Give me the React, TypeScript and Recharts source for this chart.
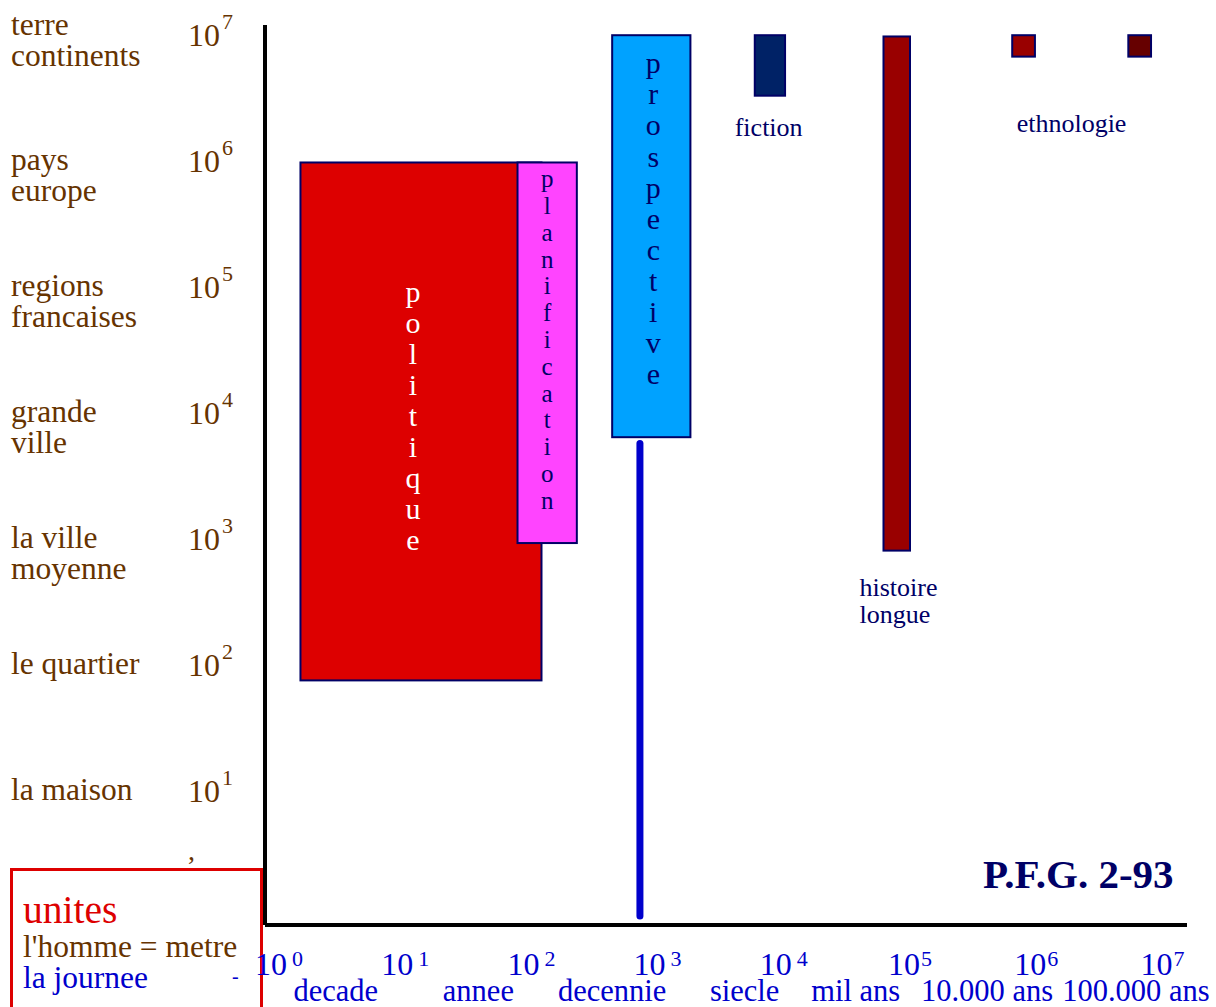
import React from "react";
import {
  ComposedChart,
  Line,
  XAxis,
  YAxis,
  ReferenceArea,
  ReferenceDot
} from "recharts";

// log10 of space (metres) on the vertical axis
const sizeExp = [1, 2, 3, 4, 5, 6, 7];
const sizeNames: string[][] = [
  ["la maison"],
  ["le quartier"],
  ["la ville", "moyenne"],
  ["grande", "ville"],
  ["regions", "francaises"],
  ["pays", "europe"],
  ["terre", "continents"]
];

// log10 of time (days) on the horizontal axis
const timeExp = [0, 1, 2, 3, 4, 5, 6, 7];
const timeNames = ["decade", "annee", "decennie", "siecle", "mil ans", "10.000 ans", "100.000 ans"];
const timeNamePos = [0.45, 1.58, 2.64, 3.69, 4.57, 5.61, 6.79];

// fields of study as boxes (time range x space range)
const fieldNames = ["politique", "planification", "prospective", "fiction", "histoire longue", "ethnologie a", "ethnologie b"];
const fieldTimeFrom = [0.17, 1.89, 2.64, 3.77, 4.79, 5.81, 6.73];
const fieldTimeTo = [2.08, 2.36, 3.26, 4.01, 5.0, 5.99, 6.91];
const fieldSizeFrom = [1.87, 2.96, 3.8, 6.51, 2.9, 6.82, 6.82];
const fieldSizeTo = [5.98, 5.98, 6.99, 6.99, 6.98, 6.99, 6.99];
const fieldWords = ["politique", "planification", "prospective", "", "", "", ""];

// prospective stem
const stemData = [
  { t: 2.86, s: 3.75 },
  { t: 2.86, s: 0 }
];

// captions next to boxes
const noteLines: string[][] = [["fiction"], ["histoire", "longue"], ["ethnologie"]];
const noteTime = [3.88, 4.6, 6.28];
const noteSize = [6.26, 2.61, 6.29];

const NAVY = "#000066";
const BROWN = "#663300";
const BLUE = "#0000CC";
const FONT = "'Liberation Serif', 'Times New Roman', serif";

const fieldStyle: Record<string, any> = {
  politique: { fill: "#DD0000", color: "#FFFFFF", size: 30, pitch: 31, dx: -8, dy: -3 },
  planification: { fill: "#FF44FF", color: NAVY, size: 25, pitch: 26.8, dx: 0, dy: -11 },
  prospective: { fill: "#00A2FF", color: NAVY, size: 30, pitch: 31.1, dx: 2, dy: -15 },
  fiction: { fill: "#002266" },
  "histoire longue": { fill: "#990000" },
  "ethnologie a": { fill: "#990000" },
  "ethnologie b": { fill: "#660000" }
};

const noteAnchor = ["middle", "start", "middle"];

// powers and time names share one axis
const xTicks = [...timeExp, ...timeNamePos].sort((a, b) => a - b);

const renderField = (i: number) => (p: any) => {
  const { x, y, width, height } = p;
  const st = fieldStyle[fieldNames[i]];
  const letters = fieldWords[i].split("");
  const cx = x + width / 2 + (st.dx || 0);
  const start = y + height / 2 - ((letters.length - 1) * (st.pitch || 0)) / 2 + (st.dy || 0);
  return (
    <g>
      <rect x={x} y={y} width={width} height={height} fill={st.fill} stroke={NAVY} strokeWidth={2} />
      {letters.map((ch, k) => (
        <text
          key={k}
          x={cx}
          y={start + k * st.pitch}
          dy="0.25em"
          textAnchor="middle"
          fontFamily={FONT}
          fontSize={st.size}
          fill={st.color}
        >
          {ch}
        </text>
      ))}
    </g>
  );
};

const renderNote = (i: number) => (p: any) => {
  const { cx, cy } = p;
  return (
    <g>
      {noteLines[i].map((line, k) => (
        <text
          key={k}
          x={cx}
          y={cy + 9 + k * 27}
          textAnchor={noteAnchor[i] as any}
          fontFamily={FONT}
          fontSize={26}
          fill={NAVY}
        >
          {line}
        </text>
      ))}
    </g>
  );
};

const SizeTick = (props: any) => {
  const { y, payload } = props;
  const idx = sizeExp.indexOf(payload.value);
  const lines = idx >= 0 ? sizeNames[idx] : [];
  const shift = payload.value === 7 ? -9 : 0;
  return (
    <g>
      {lines.map((line, k) => (
        <text key={k} x={11} y={y + 10 + shift + k * 31} fontFamily={FONT} fontSize={31.5} fill={BROWN}>
          {line}
        </text>
      ))}
      <text x={233} y={y + 12} textAnchor="end" fontFamily={FONT} fontSize={32} fill={BROWN}>
        <tspan>10</tspan>
        <tspan dx={2} dy={-17} fontSize={22}>
          {payload.value}
        </tspan>
      </text>
    </g>
  );
};

const TimeTick = (props: any) => {
  const { x, payload } = props;
  const v = payload.value;
  if (timeExp.includes(v)) {
    return (
      <text x={x} y={975} textAnchor="middle" fontFamily={FONT} fontSize={32} fill={BLUE}>
        <tspan>10</tspan>
        <tspan dx={v < 5 ? 5 : 1} dy={-9} fontSize={22}>
          {v}
        </tspan>
      </text>
    );
  }
  const idx = timeNamePos.indexOf(v);
  return (
    <text x={x} y={1001} textAnchor="middle" fontFamily={FONT} fontSize={30.5} fill={BLUE}>
      {idx >= 0 ? timeNames[idx] : ""}
    </text>
  );
};

export default function App() {
  return (
    <div
      style={{
        position: "absolute",
        left: 0,
        top: 0,
        width: 1216,
        height: 1007,
        overflow: "hidden",
        background: "#fff"
      }}
    >
      {/* units box and signature, behind the chart */}
      <svg width={1216} height={1007} style={{ position: "absolute", left: 0, top: 0 }}>
        <rect x={11.5} y={869.5} width={250} height={200} fill="none" stroke="#DD0000" strokeWidth={3} />
        <text x={23} y={923} fontFamily={FONT} fontSize={39.5} fill="#DD0000">unites</text>
        <text x={23} y={957} fontFamily={FONT} fontSize={31.5} fill={BROWN}>l'homme = metre</text>
        <text x={23} y={988} fontFamily={FONT} fontSize={31.5} fill={BLUE}>la journee</text>
        <text x={188} y={860} fontFamily={FONT} fontSize={28} fill={BROWN}>,</text>
        <text x={232} y={983} fontFamily={FONT} fontSize={20} fill={BLUE}>-</text>
        <text x={983} y={888} fontFamily={FONT} fontSize={41} fontWeight="bold" fill={NAVY}>
          P.F.G. 2-93
        </text>
      </svg>
      <div style={{ position: "absolute", left: 0, top: 0 }}>
        <ComposedChart
          width={1216}
          height={1007}
          data={stemData}
          margin={{ top: 25, right: 29, bottom: 0, left: 0 }}
        >
          <XAxis
            dataKey="t"
            type="number"
            domain={[-0.111, 7.195]}
            ticks={xTicks}
            interval={0}
            height={82}
            axisLine={{ stroke: "#000", strokeWidth: 4 }}
            tickLine={false}
            tick={<TimeTick />}
          />
          <YAxis
            type="number"
            domain={[-0.071, 7.071]}
            ticks={sizeExp}
            interval={0}
            width={265}
            axisLine={{ stroke: "#000", strokeWidth: 4 }}
            tickLine={false}
            tick={<SizeTick />}
          />
          {fieldNames.map((name, i) => (
            <ReferenceArea
              key={name}
              x1={fieldTimeFrom[i]}
              x2={fieldTimeTo[i]}
              y1={fieldSizeFrom[i]}
              y2={fieldSizeTo[i]}
              shape={renderField(i)}
            />
          ))}
          {noteLines.map((lines, i) => (
            <ReferenceDot
              key={lines.join(" ")}
              x={noteTime[i]}
              y={noteSize[i]}
              r={0}
              shape={renderNote(i)}
            />
          ))}
          <Line
            dataKey="s"
            type="linear"
            stroke={BLUE}
            strokeWidth={7}
            strokeLinecap="round"
            dot={false}
            activeDot={false}
            isAnimationActive={false}
          />
        </ComposedChart>
      </div>
    </div>
  );
}
